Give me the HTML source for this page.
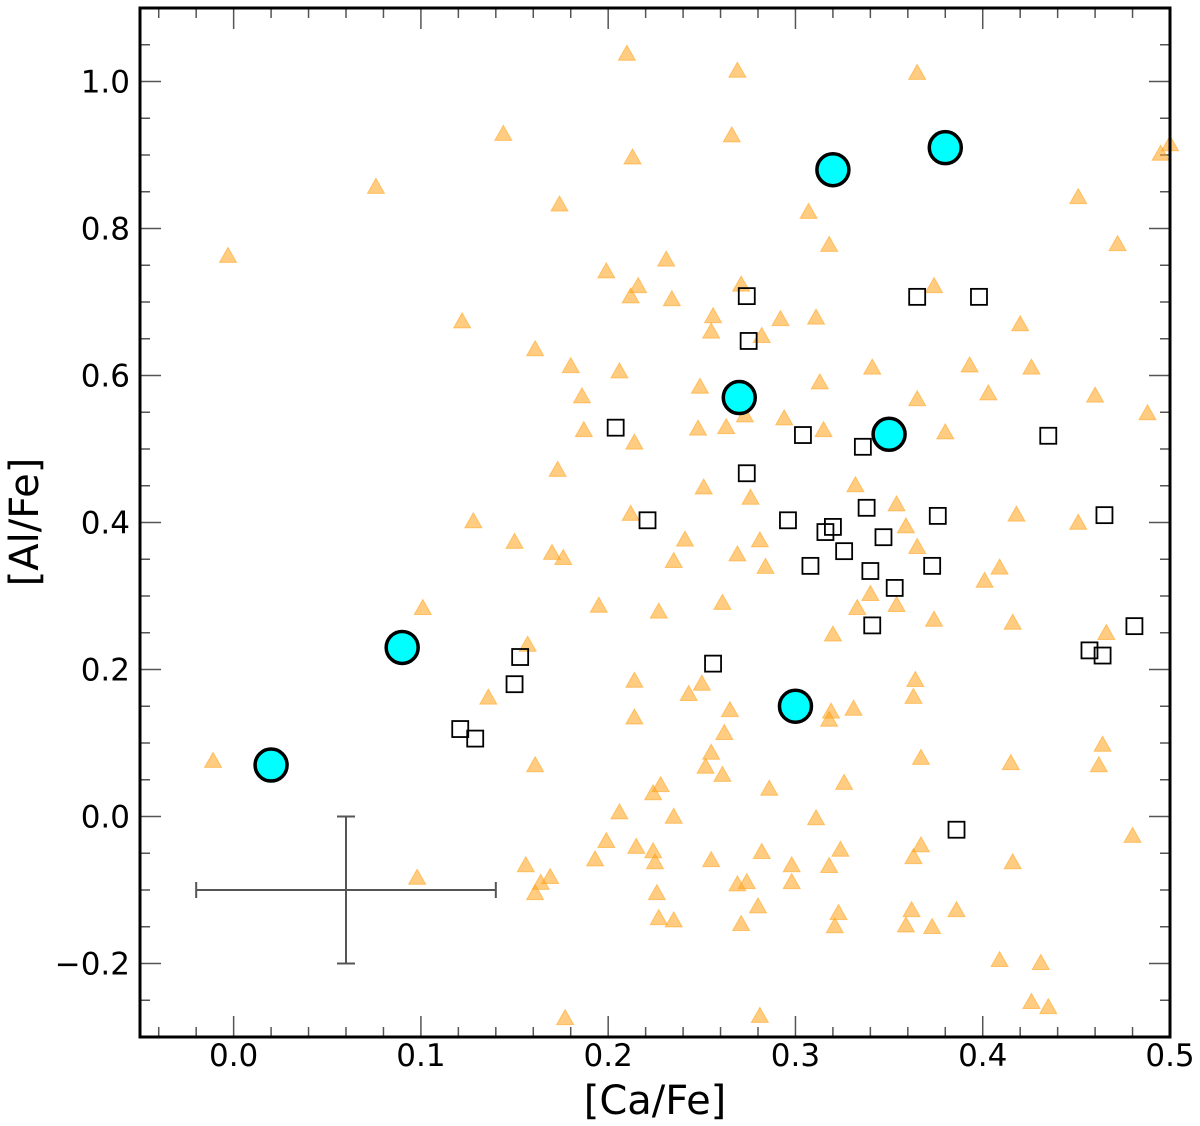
<!DOCTYPE html>
<html><head><meta charset="utf-8"><style>
body{margin:0;background:#fff;}
svg{display:block;font-family:"DejaVu Sans","Liberation Sans",sans-serif;}
</style></head><body>
<svg id="chart" width="1200" height="1126" viewBox="0 0 1200 1126"></svg>
<script>
const triX=[0.210,0.269,0.365,0.144,0.213,0.076,0.266,-0.003,0.174,0.307,0.318,0.451,0.495,0.472,0.231,0.199,0.216,0.212,0.234,0.271,0.292,0.374,0.122,0.256,0.255,0.311,0.282,0.161,0.420,0.180,0.206,0.341,0.426,0.249,0.313,0.393,0.186,0.365,0.460,0.488,0.403,0.187,0.263,0.273,0.248,0.294,0.315,0.380,0.214,0.173,0.251,0.276,0.332,0.354,0.359,0.128,0.241,0.212,0.418,0.451,0.150,0.170,0.176,0.269,0.281,0.235,0.365,0.284,0.409,0.401,0.340,0.261,0.101,0.195,0.227,0.354,0.333,0.374,0.157,0.320,0.416,0.466,0.250,0.136,0.214,0.243,0.364,0.363,0.214,0.265,0.262,0.319,0.318,0.331,0.415,0.161,0.252,0.255,0.261,0.367,0.464,0.462,0.228,0.224,0.326,0.286,-0.011,0.206,0.235,0.311,0.199,0.215,0.224,0.225,0.193,0.255,0.282,0.269,0.226,0.274,0.298,0.298,0.324,0.318,0.367,0.363,0.416,0.480,0.156,0.164,0.169,0.161,0.098,0.227,0.235,0.280,0.271,0.323,0.321,0.359,0.362,0.373,0.386,0.409,0.431,0.435,0.426,0.177,0.281,0.500];
const triY=[1.037,1.014,1.011,0.928,0.896,0.856,0.926,0.762,0.832,0.822,0.777,0.842,0.901,0.778,0.757,0.741,0.721,0.707,0.703,0.723,0.676,0.721,0.673,0.680,0.659,0.678,0.653,0.635,0.669,0.612,0.605,0.610,0.610,0.584,0.590,0.613,0.571,0.567,0.572,0.548,0.575,0.525,0.529,0.545,0.527,0.541,0.525,0.522,0.508,0.471,0.447,0.433,0.450,0.424,0.394,0.401,0.376,0.411,0.410,0.399,0.373,0.358,0.351,0.356,0.375,0.347,0.366,0.339,0.338,0.320,0.302,0.290,0.283,0.286,0.278,0.287,0.283,0.267,0.233,0.247,0.263,0.249,0.180,0.161,0.184,0.166,0.185,0.162,0.134,0.144,0.113,0.142,0.131,0.146,0.072,0.069,0.067,0.086,0.056,0.079,0.097,0.069,0.042,0.031,0.045,0.037,0.075,0.005,-0.001,-0.003,-0.034,-0.042,-0.048,-0.063,-0.059,-0.060,-0.049,-0.093,-0.105,-0.090,-0.067,-0.090,-0.046,-0.068,-0.040,-0.056,-0.063,-0.027,-0.067,-0.091,-0.083,-0.105,-0.084,-0.139,-0.142,-0.123,-0.147,-0.132,-0.150,-0.149,-0.128,-0.151,-0.128,-0.196,-0.200,-0.260,-0.253,-0.275,-0.272,0.914];
const sqX=[0.274,0.275,0.274,0.204,0.221,0.304,0.336,0.365,0.398,0.435,0.296,0.316,0.320,0.326,0.308,0.338,0.347,0.340,0.353,0.341,0.376,0.373,0.465,0.481,0.457,0.464,0.256,0.153,0.150,0.121,0.129,0.386];
const sqY=[0.708,0.647,0.467,0.529,0.403,0.519,0.503,0.707,0.707,0.518,0.403,0.387,0.394,0.361,0.341,0.420,0.380,0.334,0.311,0.260,0.409,0.341,0.410,0.259,0.226,0.219,0.208,0.217,0.180,0.119,0.106,-0.018];
const cirX=[0.02,0.09,0.27,0.30,0.32,0.35,0.38];
const cirY=[0.07,0.23,0.57,0.15,0.88,0.52,0.91];
const errX=[0.06], errY=[-0.1], errDX=[0.08], errDY=[0.1];
const xTicks=[0.0,0.1,0.2,0.3,0.4,0.5];
const xTickLabels=["0.0","0.1","0.2","0.3","0.4","0.5"];
const yTicks=[-0.2,0.0,0.2,0.4,0.6,0.8,1.0];
const yTickLabels=["\u22120.2","0.0","0.2","0.4","0.6","0.8","1.0"];

const L=140,R=1170,T=8,B=1037;
const xMin=-0.05,xMax=0.5,yMin=-0.3,yMax=1.1;
const sx=v=>L+(v-xMin)/(xMax-xMin)*(R-L);
const sy=v=>B-(v-yMin)/(yMax-yMin)*(B-T);
const svg=document.getElementById('chart');
const NS='http://www.w3.org/2000/svg';
function mk(tag,attrs,parent){const e=document.createElementNS(NS,tag);for(const k in attrs)e.setAttribute(k,attrs[k]);(parent||svg).appendChild(e);return e;}

// minor/major ticks
const tg=mk('g',{stroke:'#555','stroke-width':1.5});


for(let i=-2;i<=25;i++){const v=i*0.02;if(v<xMin-1e-9||v>xMax+1e-9)continue;const X=sx(v);const major=Math.abs(v*10-Math.round(v*10))<1e-6;const len=major?21:10;
 mk('line',{x1:X,x2:X,y1:B,y2:B-len},tg);mk('line',{x1:X,x2:X,y1:T,y2:T+len},tg);}
for(let i=-6;i<=22;i++){const v=i*0.05;const Y=sy(v);const major=Math.abs(v*5-Math.round(v*5))<1e-6;const len=major?21:10;
 mk('line',{x1:L,x2:L+len,y1:Y,y2:Y},tg);mk('line',{x1:R,x2:R-len,y1:Y,y2:Y},tg);}

// error bar
const eg=mk('g',{stroke:'#555','stroke-width':2});


mk('line',{x1:sx(errX[0]-errDX[0]),x2:sx(errX[0]+errDX[0]),y1:sy(errY[0]),y2:sy(errY[0])},eg);
mk('line',{x1:sx(errX[0]),x2:sx(errX[0]),y1:sy(errY[0]-errDY[0]),y2:sy(errY[0]+errDY[0])},eg);
[[sx(errX[0]-errDX[0]),0],[sx(errX[0]+errDX[0]),0]].forEach(p=>mk('line',{x1:p[0],x2:p[0],y1:sy(errY[0])-8,y2:sy(errY[0])+8},eg));
[sy(errY[0]-errDY[0]),sy(errY[0]+errDY[0])].forEach(y=>mk('line',{x1:sx(errX[0])-9,x2:sx(errX[0])+9,y1:y,y2:y},eg));

// triangles
const trg=mk('g',{});


triX.forEach((v,i)=>{const X=sx(v),Y=sy(triY[i]);
 const p=mk('polygon',{points:`${X},${Y-9} ${X-8.5},${Y+6} ${X+8.5},${Y+6}`,fill:'#ffa31a','fill-opacity':0.55,stroke:'#ffa31a','stroke-opacity':0.55,'stroke-width':1},trg);
 
 });

// squares
const sqg=mk('g',{});


sqX.forEach((v,i)=>{const X=sx(v),Y=sy(sqY[i]);
 const r=mk('rect',{x:X-8,y:Y-8,width:16,height:16,fill:'none',stroke:'#000','stroke-width':1.8},sqg);
 
 });

// circles
const cg=mk('g',{});


cirX.forEach((v,i)=>{const c=mk('circle',{cx:sx(v),cy:sy(cirY[i]),r:16,fill:'#00ffff',stroke:'#000','stroke-width':3.5},cg);
 
 });

// frame
const fr=mk('rect',{x:L,y:T,width:R-L,height:B-T,fill:'none',stroke:'#000','stroke-width':3});



// tick labels
xTicks.forEach((v,i)=>{const t=mk('text',{x:sx(v),y:1066,'text-anchor':'middle','font-size':31,fill:'#000'});t.textContent=xTickLabels[i];
 
 });
yTicks.forEach((v,i)=>{const t=mk('text',{x:130,y:sy(v)+11,'text-anchor':'end','font-size':31,fill:'#000'});t.textContent=yTickLabels[i];
 
 });

const xt=mk('text',{x:655,y:1114,'text-anchor':'middle','font-size':40,fill:'#000'});xt.textContent='[Ca/Fe]';


const yt=mk('text',{x:0,y:0,'text-anchor':'middle','font-size':40,fill:'#000',transform:'translate(38,522) rotate(-90)'});yt.textContent='[Al/Fe]';


</script>
</body></html>
